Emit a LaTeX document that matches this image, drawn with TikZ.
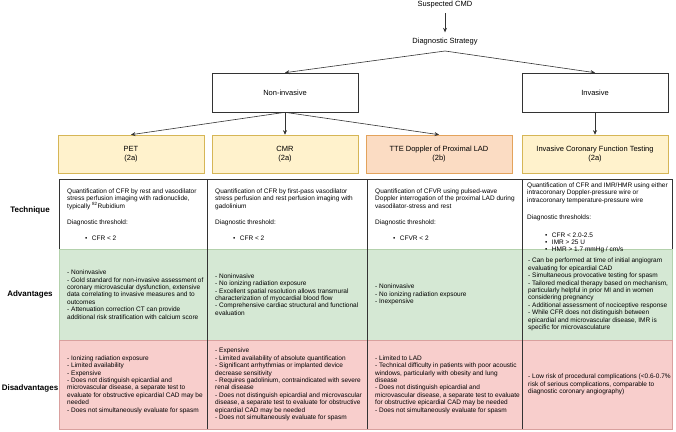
\documentclass[tikz,border=0pt]{standalone}
\usepackage{fontspec}
\setmainfont{Liberation Sans}
\usetikzlibrary{arrows.meta,shadows}
\definecolor{ylwfill}{HTML}{FFF2CC}
\definecolor{ylwdraw}{HTML}{D6B656}
\definecolor{orgfill}{HTML}{FBDCC3}
\definecolor{orgdraw}{HTML}{E3A35C}
\definecolor{grnfill}{HTML}{D5E8D4}
\definecolor{grndraw}{HTML}{B3D1AC}
\definecolor{redfill}{HTML}{F8CECC}
\definecolor{reddraw}{HTML}{D9A09E}
\definecolor{linegray}{HTML}{333333}
\tikzset{
  toptext/.style={inner sep=0pt, font=\fontsize{7.5}{9}\selectfont},
  catbox/.style={draw=linegray, fill=white, line width=0.6pt, minimum width=146pt, minimum height=39pt,
    font=\fontsize{7.5}{9}\selectfont,
    drop shadow={shadow xshift=0.6pt, shadow yshift=-1.2pt, fill=black!45, opacity=.7}},
  hdrbox/.style={draw=ylwdraw, fill=ylwfill, line width=0.6pt, minimum width=146pt, minimum height=38pt,
    align=center, font=\fontsize{7.5}{8.8}\selectfont},
  hdrorange/.style={hdrbox, draw=orgdraw, fill=orgfill},
  arr/.style={draw=linegray, line width=0.6pt, -{Stealth[length=4.5pt,width=4pt]}},
  celltext/.style={anchor=west, align=left, inner sep=0pt, font=\fontsize{6.5}{7.4}\selectfont},
  rowlab/.style={inner sep=0pt, font=\fontsize{8}{9}\selectfont\bfseries},
  divider/.style={draw=linegray, line width=0.6pt}
}
\newcommand{\blt}[1]{\hspace*{18pt}\textbullet\hspace{4.5pt}#1}
\begin{document}
\begin{tikzpicture}[x=1pt,y=-1pt]
\path[use as bounding box] (0,0) rectangle (676,431);

% top flow
\node[toptext] (scmd) at (445,4.5) {Suspected CMD};
\node[toptext] (strat) at (445,42) {Diagnostic Strategy};
\coordinate (apex) at (445,51);
\draw[arr, shorten <=5pt, shorten >=6pt] (scmd) -- (strat);

\node[catbox] (noninv) at (285,92.5) {Non-invasive};
\node[catbox] (inv) at (595,92.5) {Invasive};
\draw[arr] (apex) -- (noninv.north);
\draw[arr] (apex) -- (inv.north);

\node[hdrbox] (pet) at (131,154) {PET\\(2a)};
\node[hdrbox] (cmr) at (285,154) {CMR\\(2a)};
\node[hdrorange] (tte) at (439,154) {TTE Doppler of Proximal LAD\\(2b)};
\node[hdrbox] (icft) at (595,154) {Invasive Coronary Function Testing\\(2a)};

\draw[arr] (noninv.south) -- (pet.north);
\draw[arr] (noninv.south) -- (cmr.north);
\draw[arr] (noninv.south) -- (tte.north);
\draw[arr] (inv.south) -- (icft.north);

% table backgrounds
\fill[white] (59,179) rectangle (672,249);
\draw[divider] (59,179) rectangle (672,249);
\fill[grnfill] (59,249) rectangle (672,340);
\draw[grndraw, line width=0.6pt] (59,249) rectangle (672,340);
\fill[redfill] (59,340) rectangle (672,429);
\draw[reddraw, line width=0.6pt] (59,340) rectangle (672,429);
\foreach \xx in {207,367,522} \draw[divider] (\xx,179) -- (\xx,429);

% row labels
\node[rowlab] (ltech) at (30,210) {Technique};
\node[rowlab] (ladv) at (30,294) {Advantages};
\node[rowlab] (ldis) at (30,388) {Disadvantages};

% technique row
\node[celltext] (petT) at (67,214.5) {Quantification of CFR by rest and vasodilator\\
stress perfusion imaging with radionuclide,\\
typically \textsuperscript{82}Rubidium\\[8.5pt]
Diagnostic threshold:\\[8.5pt]
\blt{CFR < 2}};
\node[celltext] (cmrT) at (215,214.5) {Quantification of CFR by first-pass vasodilator\\
stress perfusion and rest perfusion imaging with\\
gadolinium\\[8.5pt]
Diagnostic threshold:\\[8.5pt]
\blt{CFR < 2}};
\node[celltext] (tteT) at (375,214.5) {Quantification of CFVR using pulsed-wave\\
Doppler interrogation of the proximal LAD during\\
vasodilator-stress and rest\\[8.5pt]
Diagnostic threshold:\\[8.5pt]
\blt{CFVR < 2}};
\node[celltext] (icftT) at (527,218) {Quantification of CFR and IMR/HMR using either\\
intracoronary Doppler-pressure wire or\\
intracoronary temperature-pressure wire\\[10pt]
Diagnostic thresholds:\\[10pt]
\blt{CFR < 2.0-2.5}\\
\blt{IMR > 25 U}\\
\blt{HMR > 1.7 mmHg / cm/s}};

% advantages row
\node[celltext] (petA) at (67,294.5) {- Noninvasive\\
- Gold standard for non-invasive assessment of\\
coronary microvascular dysfunction, extensive\\
data correlating to invasive measures and to\\
outcomes\\
- Attenuation correction CT can provide\\
additional risk stratification with calcium score};
\node[celltext] (cmrA) at (215,294.5) {- Noninvasive\\
- No ionizing radiation exposure\\
- Excellent spatial resolution allows transmural\\
characterization of myocardial blood flow\\
- Comprehensive cardiac structural and functional\\
evaluation};
\node[celltext] (tteA) at (375,294.5) {- Noninvasive\\
- No ionizing radiation expsoure\\
- Inexpensive};
\node[celltext] (icftA) at (528,294.5) {- Can be performed at time of initial angiogram\\
evaluating for epicardial CAD\\
- Simultaneous provocative testing for spasm\\
- Tailored medical therapy based on mechanism,\\
particularly helpful in prior MI and in women\\
considering pregnancy\\
- Additional assessment of nociceptive response\\
- While CFR does not distinguish between\\
epicardial and microvascular disease, IMR is\\
specific for microvasculature};

% disadvantages row
\node[celltext] (petD) at (67,384.5) {- Ionizing radiation exposure\\
- Limited availability\\
- Expensive\\
- Does not distinguish epicardial and\\
microvascular disease, a separate test to\\
evaluate for obstructive epicardial CAD may be\\
needed\\
- Does not simultaneously evaluate for spasm};
\node[celltext] (cmrD) at (215,384.5) {- Expensive\\
- Limited availability of absolute quantification\\
- Significant arrhythmias or implanted device\\
decrease sensitivity\\
- Requires gadolinium, contraindicated with severe\\
renal disease\\
- Does not distinguish epicardial and microvascular\\
disease, a separate test to evaluate for obstructive\\
epicardial CAD may be needed\\
- Does not simultaneously evaluate for spasm};
\node[celltext] (tteD) at (375,384.5) {- Limited to LAD\\
- Technical difficulty in patients with poor acoustic\\
windows, particularly with obesity and lung\\
disease\\
- Does not distinguish epicardial and\\
microvascular disease, a separate test to evaluate\\
for obstructive epicardial CAD may be needed\\
- Does not simultaneously evaluate for spasm};
\node[celltext] (icftD) at (528,384.5) {- Low risk of procedural complications (<0.6-0.7\%\\
risk of serious complications, comparable to\\
diagnostic coronary angiography)};
\end{tikzpicture}
\end{document}
